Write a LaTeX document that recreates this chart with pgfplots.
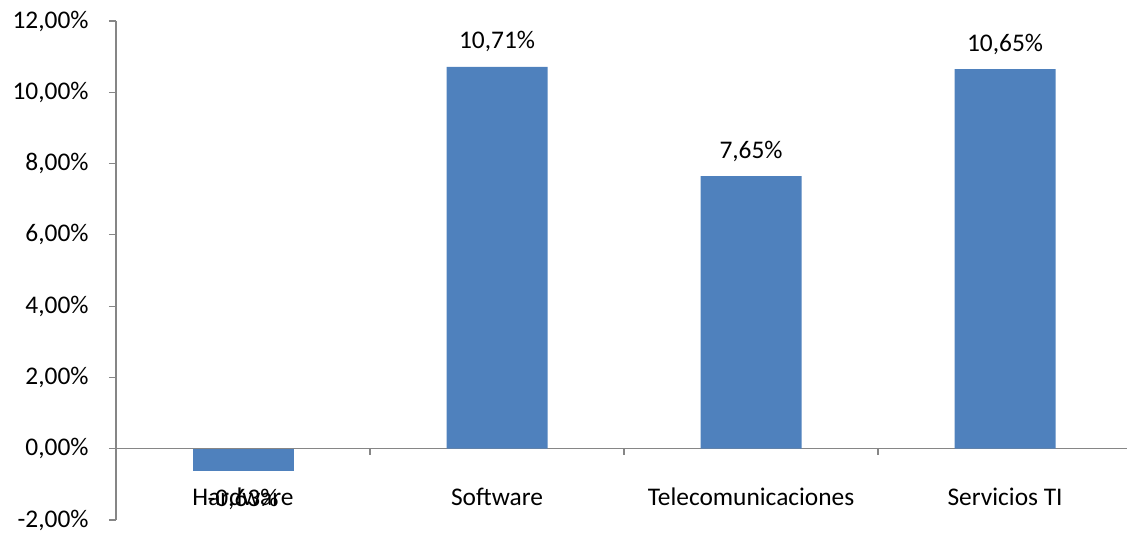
\documentclass[border=0pt]{standalone}
\usepackage{pgfplots}
\pgfplotsset{compat=1.18}
\usepackage{fontspec}
\setmainfont{Carlito}
\definecolor{barblue}{HTML}{4F81BD}
\definecolor{axgray}{HTML}{868686}
\begin{document}
\fontsize{12.7}{15}\selectfont
\begin{tikzpicture}
\begin{axis}[
 scale only axis, width=505.5pt, height=249.5pt,
 xmin=-0.5, xmax=3.48, ymin=-2, ymax=12,
 axis x line=middle, axis y line=left,
 axis line style={-, draw=axgray, line width=0.6pt},
 hide obscured x ticks=false, hide obscured y ticks=false,
 xtick={0,1,2,3},
 xticklabels={Hardware,Software,Telecomunicaciones,Servicios TI},
 minor xtick={0.5,1.5,2.5},
 major x tick style={draw=none},
 minor x tick style={draw=axgray, line width=0.6pt},
 minor tick length=3pt,
 x tick label style={anchor=base, yshift=-25pt, inner sep=0pt},
 ytick={-2,0,...,12},
 y tick style={draw=axgray, line width=0.6pt},
 major tick length=3.5pt,
 tick align=outside,
 yticklabel={\pgfmathprintnumber[fixed,fixed zerofill,precision=2,use comma,assume math mode=true]{\tick}\%},
 y tick label style={anchor=east, inner sep=0pt, xshift=-10pt},
 ybar, bar width=50.5pt, bar shift=0pt,
 clip=false,
 font=\fontsize{12.7}{15}\selectfont,
]
\addplot[fill=barblue, draw=none,
  nodes near coords={\pgfmathprintnumber[fixed,fixed zerofill,precision=2,use comma,assume math mode=true]{\pgfplotspointmeta}\%},
  every node near coord/.style={anchor=base, yshift=-17.5pt, inner sep=0pt, text=black}]
  coordinates {(0,-0.63)};
\addplot[fill=barblue, draw=none,
  nodes near coords={\pgfmathprintnumber[fixed,fixed zerofill,precision=2,use comma,assume math mode=true]{\pgfplotspointmeta}\%},
  every node near coord/.style={anchor=base, yshift=9pt, inner sep=0pt, text=black}]
  coordinates {(1,10.71) (2,7.65) (3,10.65)};
\coordinate (sw) at (rel axis cs:0,0);
\coordinate (ne) at (rel axis cs:1,1);
\end{axis}
\pgfresetboundingbox
\path[use as bounding box] ([shift={(-58pt,-7pt)}]sw) rectangle ([shift={(0pt,10.5pt)}]ne);
\end{tikzpicture}
\end{document}
